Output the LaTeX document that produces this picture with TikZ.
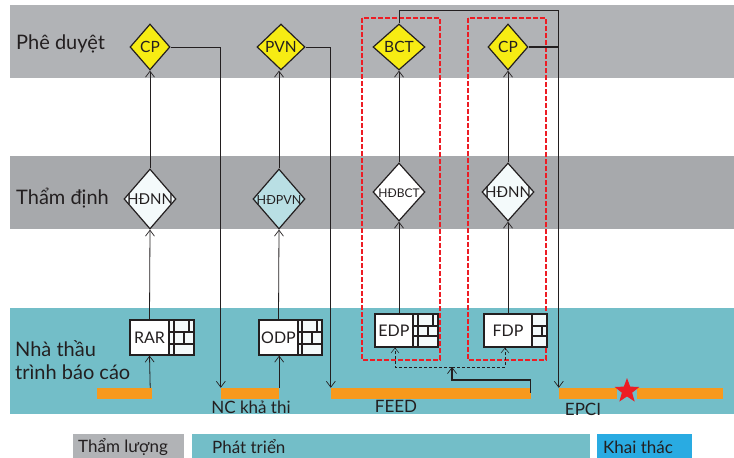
\documentclass[tikz,border=0pt]{standalone}
\usepackage{fontspec}
\setmainfont{Lato}
\usetikzlibrary{shapes.geometric,arrows.meta}
\definecolor{bandA}{HTML}{B1B3B6}
\definecolor{bandB}{HTML}{A7A9AC}
\definecolor{bandC}{HTML}{73BEC8}
\definecolor{barorange}{HTML}{F7991C}
\definecolor{gateyellow}{HTML}{F7EC13}
\definecolor{inkdark}{HTML}{231F20}
\definecolor{dashred}{HTML}{ED1C24}
\definecolor{skyblue}{HTML}{29ABE2}
\newcommand{\clapped}[1]{\smash{\makebox[0pt]{\raisebox{-.36em}{#1}}}}
\tikzset{
  gate/.style={diamond,draw=inkdark,line width=1.2pt,inner sep=0pt,text=inkdark,font=\fontsize{15.5}{18}\selectfont},
  report/.style={draw=inkdark,line width=1.2pt,fill=white,inner sep=0pt,minimum height=35pt,text=inkdark,font=\fontsize{16}{18}\selectfont},
  wall/.style={draw=inkdark,line width=1.2pt,fill=white!92!bandC,inner sep=0pt,minimum height=35pt,
    path picture={
      \draw[inkdark,line width=2pt]
        ([yshift=11.5pt]path picture bounding box.south west) -- ([yshift=11.5pt]path picture bounding box.south east)
        ([yshift=-11.5pt]path picture bounding box.north west) -- ([yshift=-11.5pt]path picture bounding box.north east)
        ([xshift=-8pt]path picture bounding box.north) -- ([xshift=-8pt]path picture bounding box.south)
        ([xshift=2pt,yshift=-11.5pt]path picture bounding box.north) -- ([xshift=2pt,yshift=11.5pt]path picture bounding box.south)
        ([xshift=7pt]path picture bounding box.north) -- ([xshift=7pt,yshift=-11.5pt]path picture bounding box.north);
    }},
  bar/.style={fill=barorange,inner sep=0pt,minimum height=11pt},
  link/.style={draw=inkdark,line width=.8pt},
  flow/.style={link,-{Straight Barb[length=6pt,width=9pt,line width=.7pt]}},
  group/.style={draw=dashred,line width=1.2pt,dash pattern=on 5pt off 2pt},
  rowlabel/.style={anchor=west,text=inkdark,inner sep=0pt,align=left,font=\fontsize{20}{23}\selectfont},
  phase/.style={text=inkdark,inner sep=0pt,font=\fontsize{17}{19}\selectfont}
}
\begin{document}
\begin{tikzpicture}[x=1pt,y=-1pt]
\useasboundingbox (0,0) rectangle (734,458);

\fill[bandA] (10,5) rectangle (734,78);
\fill[bandB] (10,156) rectangle (734,229);
\fill[bandC] (10,308) rectangle (734,414);
\fill[bandA] (73,434) rectangle (184,458);
\fill[bandC] (192,434) rectangle (590,458);
\fill[skyblue] (597,434) rectangle (692,458);

\draw[group] (362,18) rectangle (440,360);
\draw[group] (468,18) rectangle (546,360);

\node[rowlabel] (rowA) at (16,44) {Phê duyệt};
\node[rowlabel] (rowB) at (16,198) {Thẩm định};
\node[rowlabel] (rowC) at (15,360) {Nhà thầu\\trình báo cáo};

\node[gate,fill=gateyellow,minimum width=40pt,minimum height=46pt] (cpA) at (150,47) {\clapped{CP}};
\node[gate,fill=gateyellow,minimum width=48pt,minimum height=46pt] (pvn) at (281,47) {\clapped{PVN}};
\node[gate,fill=gateyellow,minimum width=52pt,minimum height=46pt] (bct) at (399,47) {\clapped{BCT}};
\node[gate,fill=gateyellow,minimum width=40pt,minimum height=46pt] (cpB) at (508,47) {\clapped{CP}};

\node[gate,fill=white!92!bandC,minimum width=52pt,minimum height=60pt] (hdnnA) at (150,199) {\clapped{\fontsize{15}{17}\selectfont HĐNN}};
\node[gate,fill=bandC!50!white,minimum width=52pt,minimum height=60pt] (hdpvn) at (279,199) {\clapped{\fontsize{12.5}{15}\selectfont HĐPVN}};
\node[gate,fill=white,minimum width=52pt,minimum height=58pt] (hdbct) at (399,192) {\clapped{\fontsize{12}{14}\selectfont HĐBCT}};
\node[gate,fill=white!92!bandC,minimum width=52pt,minimum height=58pt] (hdnnB) at (508,192) {\clapped{\fontsize{15}{17}\selectfont HĐNN}};

\node[report,minimum width=39pt] (rar) at (149.5,337.5) {\clapped{RAR}};
\node[wall,minimum width=25pt] (rarwall) at (181.5,337.5) {};
\node[report,minimum width=39pt] (odp) at (278.5,337.5) {\clapped{ODP}};
\node[wall,minimum width=24pt] (odpwall) at (310,337.5) {};
\node[report,minimum width=38pt,minimum height=33pt] (edp) at (394,330.5) {\clapped{EDP}};
\node[wall,minimum width=25pt,minimum height=33pt] (edpwall) at (425.5,330.5) {};
\node[report,minimum width=48pt,minimum height=33pt] (fdp) at (508,330.5) {\clapped{FDP}};
\node[wall,minimum width=15pt,minimum height=33pt] (fdpwall) at (539.5,330.5) {};

\node[bar,minimum width=55pt] (barA) at (124.5,393.5) {};
\node[bar,minimum width=58pt] (barB) at (250,393.5) {};
\node[bar,minimum width=200pt] (barC) at (431,393.5) {};
\node[bar,minimum width=58pt] (barD) at (588,393.5) {};
\node[bar,minimum width=86pt] (barE) at (680,393.5) {};
\node[star,star points=5,star point ratio=2.4,fill=dashred,inner sep=0pt,minimum size=26pt] (milestone) at (627,391) {};

\node[phase] (nc) at (251,407) {NC khả thi};
\node[phase] (feed) at (396,406) {FEED};
\node[phase] (epci) at (583,409) {EPCI};

\node[phase,anchor=west] (tl) at (78,447) {Thẩm lượng};
\node[phase,anchor=west] (pt) at (212,447) {Phát triển};
\node[phase,anchor=west] (kt) at (603,447) {Khai thác};

\draw[flow] ([xshift=-2pt]barA.north east) -- (rar.south);
\draw[flow] (rar.north) -- (hdnnA.south);
\draw[flow] (hdnnA.north) -- (cpA.south);
\draw[flow] (barB.north east) -- (odp.south -| barB.north east);
\draw[flow] (odp.north) -- (hdpvn.south);
\draw[flow] (hdpvn.north) -- (pvn.south -| hdpvn.north);
\draw[flow] (edp.north -| bct.south) -- (hdbct.south);
\draw[flow] (hdbct.north) -- (bct.south);
\draw[flow] (fdp.north) -- (hdnnB.south);
\draw[flow] (hdnnB.north) -- (cpB.south);

\draw[flow] (cpA.east) -| (barB.north west);
\draw[flow] (pvn.east) -| (barC.north west);
\draw[flow] (bct.north) |- (399,10) -| (barD.north west);
\draw[inkdark,line width=2.2pt] (cpB.east) -- (cpB.east -| barD.north west);

\coordinate (split) at (452,367);
\draw[link,line width=.6pt,densely dashed,-{Straight Barb[length=5pt,width=8pt,line width=.5pt]}] (split) -| (edp.south -| 395,0);
\draw[link,line width=.6pt,densely dashed,-{Straight Barb[length=5pt,width=8pt,line width=.5pt]}] (split) -| (fdp.south -| 505,0);
\draw[inkdark,line width=1.3pt,-{Straight Barb[length=6pt,width=9pt,line width=.7pt]}] ([xshift=-1pt]barC.north east) ++(0,5) |- (452,380) -- (split);
\end{tikzpicture}
\end{document}
